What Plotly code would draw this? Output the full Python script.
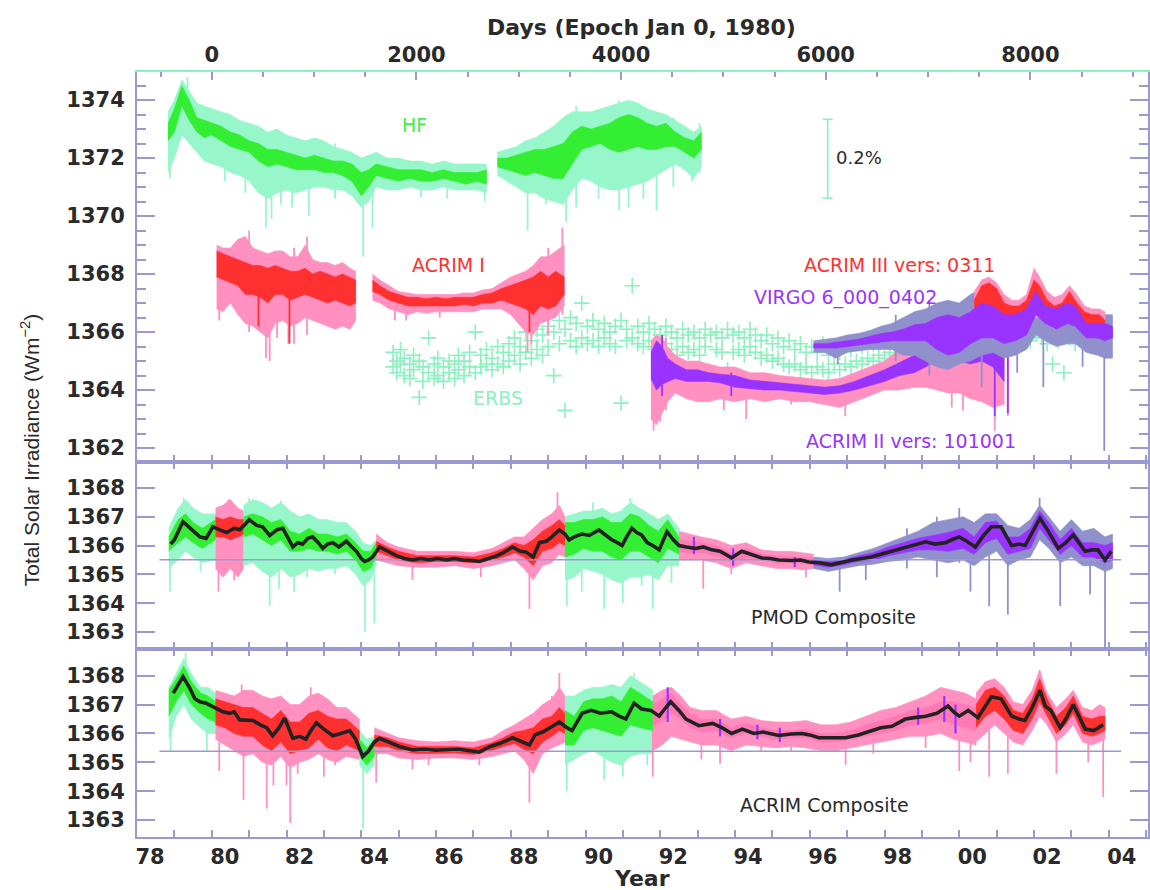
import plotly.graph_objects as go

# ============================================================
# DATA
# ============================================================

# ---- axes / ticks ------------------------------------------
year_range = [1978.0, 2005.05]
days_per_year = 365.25
top_yrange = [1361.52, 1374.97]
mid_yrange = [1362.41, 1368.90]
bot_yrange = [1362.41, 1368.93]

year_ticks = [1978, 1979, 1980, 1981, 1982, 1983, 1984, 1985, 1986, 1987,
              1988, 1989, 1990, 1991, 1992, 1993, 1994, 1995, 1996, 1997,
              1998, 1999, 2000, 2001, 2002, 2003, 2004, 2005]
year_labels = ["78", "", "80", "", "82", "", "84", "", "86", "", "88", "", "90", "",
               "92", "", "94", "", "96", "", "98", "", "00", "", "02", "", "04", ""]
days_ticks = [0, 2000, 4000, 6000, 8000]
days_labels = ["0", "2000", "4000", "6000", "8000"]
top_yticks = [1362, 1364, 1366, 1368, 1370, 1372, 1374]
comp_yticks = [1363, 1364, 1365, 1366, 1367, 1368]

# ---- TOP PANEL: HF (Nimbus-7) --------------------------------
hf1_x = [1978.83, 1979.0, 1979.2, 1979.4, 1979.6, 1979.8, 1980.0, 1980.25, 1980.5, 1980.75,
         1981.0, 1981.25, 1981.5, 1981.75, 1982.0, 1982.25, 1982.5, 1982.75, 1983.0, 1983.25,
         1983.5, 1983.75, 1984.0, 1984.2, 1984.4, 1984.7, 1985.0, 1985.3, 1985.6, 1985.9,
         1986.2, 1986.5, 1986.8, 1987.1, 1987.35]
hf1_dlo = [1372.6, 1372.9, 1373.8, 1373.3, 1372.9, 1372.7, 1372.8, 1372.6, 1372.4, 1372.3,
           1372.2, 1371.9, 1371.7, 1371.8, 1371.7, 1371.6, 1371.6, 1371.6, 1371.5, 1371.5,
           1371.4, 1371.2, 1370.7, 1371.0, 1371.4, 1371.3, 1371.2, 1371.3, 1371.2, 1371.2,
           1371.3, 1371.2, 1371.1, 1371.2, 1371.1]
hf1_dhi = [1373.2, 1373.7, 1374.5, 1374.0, 1373.4, 1373.3, 1373.2, 1373.1, 1372.9, 1372.8,
           1372.6, 1372.5, 1372.3, 1372.3, 1372.2, 1372.1, 1372.0, 1372.1, 1372.0, 1371.9,
           1371.9, 1371.8, 1371.5, 1371.6, 1371.8, 1371.7, 1371.6, 1371.6, 1371.6, 1371.5,
           1371.6, 1371.5, 1371.5, 1371.5, 1371.6]
hf1_llo = [1371.5, 1372.0, 1372.8, 1372.5, 1372.2, 1371.9, 1371.8, 1371.7, 1371.5, 1371.4,
           1371.2, 1370.8, 1370.6, 1370.8, 1370.9, 1370.8, 1370.9, 1371.0, 1371.0, 1370.9,
           1370.9, 1370.7, 1370.3, 1370.5, 1371.0, 1370.9, 1370.9, 1371.0, 1370.9, 1370.9,
           1371.0, 1370.9, 1370.9, 1370.9, 1370.8]
hf1_lhi = [1373.6, 1374.0, 1374.7, 1374.3, 1373.9, 1373.8, 1373.7, 1373.6, 1373.5, 1373.3,
           1373.2, 1373.1, 1372.9, 1373.0, 1372.8, 1372.7, 1372.6, 1372.7, 1372.6, 1372.4,
           1372.3, 1372.2, 1372.0, 1372.1, 1372.2, 1372.0, 1372.0, 1371.9, 1371.9, 1371.8,
           1371.9, 1371.8, 1371.8, 1371.8, 1371.8]

hf2_x = [1987.64, 1987.9, 1988.15, 1988.4, 1988.65, 1988.9, 1989.15, 1989.4, 1989.65, 1989.9,
         1990.15, 1990.4, 1990.65, 1990.9, 1991.15, 1991.4, 1991.65, 1991.9, 1992.15, 1992.4,
         1992.65, 1992.9, 1993.1]
hf2_dlo = [1371.7, 1371.6, 1371.5, 1371.4, 1371.5, 1371.4, 1371.3, 1371.3, 1371.8, 1372.3,
           1372.4, 1372.5, 1372.3, 1372.2, 1372.3, 1372.4, 1372.3, 1372.3, 1372.4, 1372.4,
           1372.2, 1372.0, 1372.3]
hf2_dhi = [1372.0, 1372.0, 1372.1, 1372.2, 1372.3, 1372.3, 1372.4, 1372.5, 1372.9, 1373.1,
           1373.0, 1373.1, 1373.2, 1373.4, 1373.5, 1373.4, 1373.2, 1373.1, 1373.2, 1372.9,
           1372.7, 1372.6, 1372.9]
hf2_llo = [1371.4, 1371.2, 1371.0, 1370.8, 1370.8, 1370.6, 1370.5, 1370.4, 1370.9, 1371.3,
           1371.2, 1371.0, 1370.9, 1370.9, 1371.0, 1371.1, 1371.2, 1371.4, 1371.6, 1371.8,
           1371.6, 1371.3, 1371.7]
hf2_lhi = [1372.2, 1372.3, 1372.4, 1372.6, 1372.7, 1372.9, 1373.1, 1373.4, 1373.6, 1373.6,
           1373.6, 1373.7, 1373.8, 1373.9, 1374.0, 1373.9, 1373.7, 1373.6, 1373.5, 1373.3,
           1373.1, 1372.9, 1373.1]

hf_spk_x = [1978.88, 1979.35, 1980.35, 1980.9, 1981.45, 1981.6, 1981.85, 1982.15, 1982.6, 1983.3,
            1984.05, 1984.3, 1985.6, 1986.3, 1987.3, 1988.45, 1988.95, 1989.48, 1989.75, 1990.35,
            1990.9, 1991.15, 1991.55, 1991.9, 1992.35, 1992.85, 1993.05]
hf_spk_lo = [1371.3, 1372.6, 1371.2, 1370.8, 1369.6, 1369.9, 1370.4, 1370.3, 1370.0, 1370.6,
             1368.6, 1369.6, 1370.65, 1370.6, 1370.5, 1369.5, 1370.4, 1369.8, 1370.3, 1370.6,
             1370.2, 1370.3, 1370.6, 1370.2, 1371.0, 1371.2, 1371.5]
hf_spk_hi = [1372.8, 1374.8, 1373.5, 1372.8, 1372.4, 1372.0, 1372.2, 1372.0, 1372.0, 1372.5,
             1371.5, 1371.8, 1371.8, 1371.8, 1371.7, 1372.2, 1372.8, 1373.0, 1373.8, 1373.6,
             1374.0, 1374.0, 1373.6, 1373.5, 1373.4, 1372.9, 1373.2]

# ---- TOP PANEL: ACRIM I -------------------------------------
a1a_x = [1980.13, 1980.3, 1980.5, 1980.7, 1980.9, 1981.1, 1981.3, 1981.5, 1981.7, 1981.9,
         1982.1, 1982.3, 1982.5, 1982.7, 1982.9, 1983.1, 1983.3, 1983.5, 1983.7, 1983.85]
a1a_dlo = [1367.9, 1367.8, 1367.7, 1367.6, 1367.3, 1367.3, 1367.2, 1367.0, 1367.3, 1367.3,
           1367.1, 1367.2, 1367.3, 1367.2, 1367.1, 1367.0, 1367.1, 1367.0, 1366.9, 1367.0]
a1a_dhi = [1368.8, 1368.7, 1368.6, 1368.5, 1368.4, 1368.3, 1368.3, 1368.2, 1368.3, 1368.2,
           1368.1, 1368.1, 1368.2, 1368.0, 1368.1, 1368.0, 1367.9, 1368.0, 1367.9, 1367.8]
a1a_llo = [1366.8, 1366.7, 1367.0, 1366.6, 1366.3, 1366.2, 1366.0, 1365.8, 1366.3, 1366.4,
           1366.2, 1366.3, 1366.5, 1366.4, 1366.3, 1366.2, 1366.1, 1366.2, 1366.1, 1366.4]
a1a_lhi = [1369.0, 1368.9, 1368.9, 1369.2, 1369.3, 1368.9, 1368.8, 1368.7, 1368.8, 1368.8,
           1368.6, 1368.6, 1369.0, 1368.5, 1368.4, 1368.4, 1368.3, 1368.4, 1368.2, 1368.1]

a1b_x = [1984.3, 1984.5, 1984.75, 1985.0, 1985.25, 1985.5, 1985.75, 1986.0, 1986.25, 1986.5,
         1986.75, 1987.0, 1987.25, 1987.5, 1987.75, 1988.0, 1988.2, 1988.4, 1988.6, 1988.8,
         1989.0, 1989.2, 1989.43]
a1b_dlo = [1367.4, 1367.3, 1367.1, 1367.0, 1366.9, 1366.9, 1366.9, 1366.9, 1366.9, 1366.9,
           1366.95, 1366.9, 1367.0, 1367.0, 1367.1, 1367.0, 1366.9, 1366.8, 1366.6, 1366.9,
           1366.8, 1366.9, 1367.3]
a1b_dhi = [1367.8, 1367.6, 1367.4, 1367.3, 1367.2, 1367.2, 1367.15, 1367.2, 1367.15, 1367.2,
           1367.2, 1367.2, 1367.3, 1367.35, 1367.5, 1367.6, 1367.7, 1367.8, 1367.9, 1368.1,
           1367.9, 1368.1, 1367.9]
a1b_llo = [1367.1, 1367.0, 1366.8, 1366.7, 1366.6, 1366.7, 1366.65, 1366.7, 1366.7, 1366.7,
           1366.7, 1366.7, 1366.8, 1366.8, 1366.8, 1366.6, 1366.3, 1366.0, 1365.9, 1366.3,
           1366.4, 1366.5, 1366.9]
a1b_lhi = [1368.0, 1367.8, 1367.6, 1367.4, 1367.35, 1367.3, 1367.3, 1367.3, 1367.3, 1367.3,
           1367.35, 1367.35, 1367.45, 1367.5, 1367.7, 1367.9, 1368.0, 1368.1, 1368.3, 1368.6,
           1368.6, 1368.8, 1369.0]

a1_spk_x = [1980.2, 1981.0, 1981.45, 1981.55, 1981.75, 1982.05, 1982.2, 1982.55, 1983.4, 1984.9,
            1985.2, 1986.1, 1988.45, 1988.55, 1989.0, 1989.38]
a1_spk_lo = [1366.4, 1366.0, 1365.1, 1365.0, 1365.8, 1365.6, 1365.6, 1365.9, 1366.3, 1366.4,
             1366.4, 1366.5, 1365.3, 1365.6, 1365.9, 1366.6]
a1_spk_hi = [1368.9, 1369.5, 1368.5, 1368.3, 1368.6, 1368.5, 1368.9, 1369.3, 1368.3, 1367.4,
             1367.3, 1367.3, 1367.8, 1368.0, 1368.9, 1369.6]
a1_rspk_x = [1981.25, 1982.08, 1988.5]
a1_rspk_lo = [1366.2, 1365.6, 1366.0]
a1_rspk_hi = [1367.8, 1367.5, 1367.6]

# ---- TOP PANEL: ACRIM II ------------------------------------
a2_x = [1991.75, 1991.9, 1992.05, 1992.2, 1992.4, 1992.7, 1993.0, 1993.3, 1993.6, 1994.0,
        1994.4, 1994.8, 1995.2, 1995.6, 1996.0, 1996.4, 1996.8, 1997.2, 1997.6, 1998.0,
        1998.4, 1998.8, 1999.1, 1999.4, 1999.7, 2000.0, 2000.3, 2000.6, 2000.9, 2001.2]
a2_dlo = [1364.4, 1364.0, 1364.2, 1364.3, 1364.4, 1364.3, 1364.3, 1364.3, 1364.25, 1364.1,
          1364.05, 1364.0, 1364.0, 1363.95, 1363.9, 1363.85, 1363.9, 1364.0, 1364.15, 1364.3,
          1364.5, 1364.6, 1364.8, 1365.0, 1365.1, 1365.0, 1364.9, 1365.0, 1364.8, 1364.3]
a2_dhi = [1365.3, 1365.7, 1365.5, 1365.1, 1364.9, 1364.7, 1364.7, 1364.6, 1364.55, 1364.5,
          1364.35, 1364.3, 1364.25, 1364.2, 1364.15, 1364.1, 1364.15, 1364.3, 1364.5, 1364.7,
          1364.95, 1365.2, 1365.5, 1365.9, 1366.1, 1366.2, 1366.3, 1366.6, 1366.4, 1365.8]
a2_llo = [1363.0, 1362.8, 1363.2, 1363.6, 1363.9, 1363.7, 1363.6, 1363.6, 1363.7, 1363.6,
          1363.7, 1363.6, 1363.7, 1363.6, 1363.6, 1363.5, 1363.4, 1363.6, 1363.8, 1364.0,
          1364.0, 1364.1, 1364.1, 1364.0, 1363.9, 1363.9, 1363.7, 1363.6, 1363.4, 1363.5]
a2_lhi = [1365.7, 1365.9, 1365.8, 1365.5, 1365.2, 1365.0, 1365.0, 1364.9, 1364.8, 1364.8,
          1364.6, 1364.6, 1364.5, 1364.45, 1364.4, 1364.35, 1364.4, 1364.6, 1364.8, 1365.0,
          1365.4, 1365.7, 1366.0, 1366.3, 1366.5, 1366.7, 1366.8, 1366.9, 1366.7, 1366.2]
a2_spk_x = [1991.82, 1992.0, 1992.15, 1993.7, 1994.3, 1995.5, 1996.95, 1999.8, 2000.1, 2000.95, 2001.3]
a2_spk_lo = [1362.6, 1362.9, 1363.3, 1363.3, 1363.0, 1363.5, 1363.1, 1363.4, 1363.3, 1362.6, 1363.1]
a2_spk_hi = [1365.5, 1365.6, 1365.8, 1364.7, 1364.5, 1364.4, 1364.3, 1366.0, 1366.3, 1366.0, 1365.5]
a2_pspk_x = [1992.05, 1993.9, 2000.95, 2001.3]
a2_pspk_lo = [1363.8, 1363.8, 1363.1, 1363.2]
a2_pspk_hi = [1365.9, 1364.6, 1365.8, 1365.2]

# ---- TOP PANEL: VIRGO ---------------------------------------
vg_x = [1996.1, 1996.4, 1996.7, 1997.0, 1997.3, 1997.6, 1997.9, 1998.2, 1998.5, 1998.8,
        1999.1, 1999.4, 1999.7, 2000.0, 2000.3, 2000.6, 2000.9, 2001.2, 2001.5, 2001.8,
        2002.05, 2002.3, 2002.6, 2002.9, 2003.1, 2003.4, 2003.7, 2003.9, 2004.1]
vg_dlo = [1365.45, 1365.45, 1365.45, 1365.5, 1365.55, 1365.6, 1365.65, 1365.7, 1365.7, 1365.7,
          1365.7, 1365.4, 1365.2, 1365.3, 1365.6, 1365.8, 1365.8, 1365.6, 1365.7, 1365.9,
          1366.6, 1366.3, 1366.1, 1366.3, 1366.2, 1365.8, 1365.8, 1365.7, 1365.8]
vg_dhi = [1365.6, 1365.6, 1365.65, 1365.7, 1365.75, 1365.85, 1365.95, 1366.0, 1366.1, 1366.25,
          1366.3, 1366.5, 1366.6, 1366.5, 1366.7, 1367.0, 1366.9, 1366.6, 1366.6, 1366.8,
          1367.4, 1366.9, 1366.8, 1367.0, 1366.9, 1366.3, 1366.3, 1366.3, 1366.2]
vg_llo = [1365.3, 1365.3, 1365.1, 1365.3, 1365.35, 1365.4, 1365.4, 1365.4, 1365.2, 1365.2,
          1365.0, 1364.8, 1364.7, 1364.9, 1365.0, 1365.2, 1365.3, 1365.1, 1365.2, 1365.4,
          1365.9, 1365.7, 1365.5, 1365.6, 1365.6, 1365.3, 1365.2, 1365.1, 1365.1]
vg_lhi = [1365.7, 1365.75, 1365.8, 1365.9, 1365.95, 1366.05, 1366.2, 1366.3, 1366.5, 1366.7,
          1366.8, 1367.0, 1367.1, 1367.0, 1367.3, 1367.5, 1367.3, 1367.1, 1367.0, 1367.2,
          1367.7, 1367.3, 1367.1, 1367.3, 1367.2, 1366.8, 1366.7, 1366.6, 1366.6]
vg_spk_x = [1996.75, 1998.3, 1999.2, 2000.6, 2001.55, 2002.25, 2003.3, 2003.88]
vg_spk_lo = [1364.9, 1365.0, 1364.5, 1364.1, 1364.6, 1364.1, 1364.8, 1361.9]
vg_spk_hi = [1365.7, 1366.6, 1367.1, 1367.4, 1367.0, 1366.9, 1366.9, 1366.4]

# ---- TOP PANEL: ACRIM III -----------------------------------
a3_x = [2000.4, 2000.6, 2000.8, 2001.0, 2001.2, 2001.4, 2001.6, 2001.8, 2002.0, 2002.15,
        2002.35, 2002.55, 2002.75, 2002.95, 2003.15, 2003.35, 2003.55, 2003.75, 2003.9]
a3_dlo = [1366.6, 1366.9, 1366.9, 1366.8, 1366.5, 1366.3, 1366.3, 1366.5, 1366.9, 1366.9,
          1366.6, 1366.4, 1366.5, 1366.7, 1366.5, 1366.3, 1366.2, 1366.3, 1366.1]
a3_dhi = [1367.1, 1367.6, 1367.7, 1367.5, 1367.0, 1366.9, 1366.9, 1367.1, 1367.8, 1367.6,
          1367.1, 1366.9, 1367.0, 1367.4, 1367.0, 1366.7, 1366.6, 1366.6, 1366.4]
a3_llo = [1366.3, 1366.5, 1366.6, 1366.4, 1366.1, 1366.0, 1366.0, 1366.2, 1366.5, 1366.5,
          1366.3, 1366.1, 1366.2, 1366.4, 1366.2, 1366.0, 1365.9, 1366.0, 1365.9]
a3_lhi = [1367.4, 1367.8, 1367.9, 1367.7, 1367.3, 1367.1, 1367.1, 1367.3, 1368.2, 1367.9,
          1367.4, 1367.2, 1367.3, 1367.6, 1367.3, 1366.9, 1366.8, 1366.8, 1366.7]

# ---- TOP PANEL: ERBS (crosses) ------------------------------
erbs_x = [1984.85, 1984.95, 1985.05, 1985.15, 1985.3, 1985.4, 1985.55, 1985.65, 1985.8, 1985.95,
          1986.05, 1986.2, 1986.35, 1986.5, 1986.6, 1986.75, 1986.9, 1987.05, 1987.2, 1987.35,
          1987.5, 1987.65, 1987.8, 1987.95, 1988.1, 1988.25, 1988.4, 1988.55, 1988.7, 1988.85,
          1989.0, 1989.15, 1989.3, 1989.45, 1989.6, 1989.75, 1989.9, 1990.05, 1990.2, 1990.35,
          1990.5, 1990.65, 1990.8, 1990.95, 1991.1, 1991.25, 1991.4, 1991.55, 1991.7, 1991.85,
          1992.0, 1992.15, 1992.3, 1992.45, 1992.6, 1992.75, 1992.9, 1993.05, 1993.2, 1993.35,
          1993.5, 1993.65, 1993.8, 1993.95, 1994.1, 1994.25, 1994.4, 1994.55, 1994.7, 1994.85,
          1995.0, 1995.15, 1995.3, 1995.45, 1995.6, 1995.75, 1995.9, 1996.05, 1996.2, 1996.35,
          1996.5, 1996.65, 1996.8, 1996.95, 1997.1, 1997.25, 1997.4, 1997.55, 1997.7, 1997.85,
          1998.0, 1998.15, 1998.3, 1998.45, 1998.6, 1998.75, 1998.9, 1999.05, 1999.2, 1999.35,
          1999.5, 1999.65, 1999.8, 1999.95, 2000.1, 2000.25, 2000.4, 2000.55, 2000.7, 2000.85,
          2001.0, 2001.15, 2001.3, 2001.45, 2001.6, 2001.75, 2001.9, 2002.05, 2002.2, 2002.35,
          2002.5, 2002.65, 2002.8, 2002.95, 2003.1, 2003.25, 2003.4, 2003.55, 2003.7, 2003.85]
erbs_a = [1365.3, 1365.0, 1365.4, 1365.1, 1364.9, 1365.2, 1365.0, 1364.8, 1365.8, 1364.9,
          1365.1, 1364.8, 1365.0, 1364.9, 1365.2, 1365.0, 1365.3, 1366.0, 1365.2, 1365.4,
          1365.1, 1365.5, 1365.3, 1365.6, 1365.8, 1365.5, 1366.0, 1365.7, 1366.1, 1365.9,
          1366.2, 1366.0, 1366.4, 1366.1, 1366.5, 1366.3, 1367.0, 1366.2, 1366.4, 1366.1,
          1366.3, 1366.0, 1366.2, 1366.4, 1366.1, 1367.6, 1366.2, 1366.0, 1366.3, 1366.1,
          1365.9, 1366.2, 1366.0, 1365.8, 1366.1, 1365.9, 1366.0, 1365.8, 1366.1, 1365.9,
          1366.0, 1365.8, 1366.1, 1365.9, 1366.0, 1365.8, 1366.1, 1365.9, 1365.7, 1365.9,
          1365.6, 1365.8, 1365.5, 1365.7, 1365.4, 1365.6, 1365.3, 1365.5, 1365.3, 1365.6,
          1365.2, 1365.5, 1365.3, 1365.6, 1365.4, 1365.7, 1365.5, 1365.8, 1365.6, 1365.9,
          1365.7, 1366.0, 1365.8, 1366.1, 1365.9, 1366.2, 1366.0, 1366.3, 1366.1, 1366.4,
          1366.2, 1366.3, 1366.1, 1366.4, 1366.2, 1366.5, 1366.3, 1366.6, 1366.4, 1366.2,
          1366.5, 1366.3, 1366.1, 1366.4, 1366.2, 1366.5, 1366.3, 1366.6, 1366.4, 1366.2,
          1366.5, 1366.3, 1366.1, 1366.4, 1366.2, 1366.5, 1366.3, 1366.1, 1366.4, 1366.2]
erbs_b = [1364.8, 1364.6, 1364.9, 1364.5, 1364.4, 1364.7, 1363.75, 1364.3, 1364.6, 1364.4,
          1364.5, 1364.3, 1364.6, 1364.4, 1364.7, 1364.5, 1364.8, 1364.6, 1364.8, 1364.9,
          1364.7, 1364.9, 1364.8, 1365.0, 1365.2, 1364.9, 1365.3, 1365.1, 1365.4, 1365.2,
          1365.5, 1364.5, 1365.6, 1363.3, 1365.7, 1365.5, 1365.8, 1365.6, 1365.7, 1365.5,
          1365.8, 1365.6, 1365.5, 1363.55, 1365.7, 1365.8, 1365.6, 1365.5, 1365.7, 1365.4,
          1365.3, 1365.6, 1365.4, 1365.2, 1365.5, 1365.3, 1365.4, 1365.2, 1365.5, 1364.6,
          1365.4, 1365.3, 1364.7, 1365.3, 1365.4, 1365.2, 1365.5, 1365.3, 1365.1, 1365.2,
          1365.0, 1365.1, 1364.9, 1364.8, 1364.9, 1364.7, 1364.8, 1364.6, 1364.8, 1364.7,
          1364.6, 1364.9, 1364.7, 1364.9, 1364.8, 1365.0, 1364.9, 1365.1, 1365.0, 1365.2,
          1365.1, 1365.3, 1365.2, 1365.4, 1365.3, 1365.5, 1365.4, 1365.6, 1365.5, 1365.7,
          1365.6, 1365.8, 1365.5, 1365.7, 1365.6, 1365.8, 1365.7, 1365.9, 1365.8, 1365.6,
          1365.9, 1365.7, 1365.5, 1365.8, 1365.6, 1365.9, 1365.7, 1366.0, 1365.8, 1365.6,
          1364.9, 1365.7, 1364.6, 1365.8, 1365.6, 1365.9, 1365.7, 1365.5, 1365.8, 1365.6]

# 0.2 % scale bar
scale_x = 1996.48
scale_lo = 1370.62
scale_hi = 1373.34

# ---- MIDDLE PANEL: PMOD composite ---------------------------
pmod_x = [1978.9, 1979.0, 1979.23, 1979.45, 1979.68, 1979.85, 1980.03, 1980.2, 1980.4, 1980.6,
          1980.75, 1980.9, 1981.0, 1981.2, 1981.36, 1981.55, 1981.75, 1981.9, 1982.05, 1982.17,
          1982.3, 1982.43, 1982.57, 1982.7, 1982.85, 1982.97, 1983.1, 1983.24, 1983.4, 1983.6,
          1983.75, 1983.87, 1984.0, 1984.09, 1984.2, 1984.3, 1984.49, 1984.7, 1984.94, 1985.15,
          1985.37, 1985.6, 1985.82, 1986.05, 1986.28, 1986.5, 1986.7, 1986.95, 1987.16, 1987.4,
          1987.6, 1987.8, 1988.05, 1988.25, 1988.4, 1988.6, 1988.77, 1988.95, 1989.1, 1989.3,
          1989.45, 1989.56, 1989.7, 1989.9, 1990.1, 1990.36, 1990.55, 1990.7, 1990.85, 1990.98,
          1991.1, 1991.24, 1991.37, 1991.5, 1991.65, 1991.8, 1991.97, 1992.18, 1992.35, 1992.5,
          1992.7, 1992.95, 1993.15, 1993.38, 1993.6, 1993.91, 1994.18, 1994.45, 1994.72, 1994.95,
          1995.17, 1995.52, 1995.75, 1995.97, 1996.25, 1996.58, 1996.85, 1997.12, 1997.4, 1997.65,
          1997.9, 1998.19, 1998.45, 1998.72, 1999.1, 1999.35, 1999.63, 1999.8, 2000.0, 2000.2,
          2000.43, 2000.65, 2000.86, 2001.12, 2001.4, 2001.6, 2001.76, 2001.95, 2002.16, 2002.38,
          2002.65, 2002.85, 2003.05, 2003.2, 2003.37, 2003.55, 2003.71, 2003.9, 2004.07]
pmod_y = [1366.05, 1366.2, 1366.83, 1366.55, 1366.3, 1366.25, 1366.65, 1366.55, 1366.45, 1366.6,
          1366.55, 1366.75, 1366.9, 1366.7, 1366.65, 1366.35, 1366.55, 1366.6, 1366.25, 1365.95,
          1366.1, 1366.05, 1366.25, 1366.3, 1366.1, 1365.9, 1366.05, 1366.1, 1365.95, 1366.15,
          1365.95, 1365.8, 1365.55, 1365.45, 1365.5, 1365.6, 1365.95, 1365.8, 1365.65, 1365.55,
          1365.5, 1365.55, 1365.5, 1365.55, 1365.5, 1365.55, 1365.5, 1365.48, 1365.45, 1365.55,
          1365.63, 1365.75, 1365.95, 1365.8, 1365.78, 1365.6, 1366.1, 1366.15, 1366.3, 1366.54,
          1366.4, 1366.2, 1366.3, 1366.4, 1366.35, 1366.54, 1366.35, 1366.2, 1366.1, 1366.0,
          1366.3, 1366.6, 1366.45, 1366.37, 1366.1, 1366.0, 1365.85, 1366.48, 1366.2, 1366.0,
          1365.95, 1365.9, 1365.95, 1365.85, 1365.8, 1365.57, 1365.8, 1365.7, 1365.57, 1365.55,
          1365.5, 1365.48, 1365.5, 1365.43, 1365.4, 1365.33, 1365.42, 1365.5, 1365.55, 1365.6,
          1365.7, 1365.8, 1365.9, 1366.0, 1366.13, 1366.05, 1366.1, 1366.2, 1366.3, 1366.15,
          1365.95, 1366.35, 1366.65, 1366.65, 1366.0, 1366.05, 1366.0, 1366.45, 1366.95, 1366.5,
          1365.9, 1366.1, 1366.37, 1366.1, 1365.8, 1365.85, 1365.85, 1365.5, 1365.8]
pmod_ref = 1365.51

pmod_bx = [1978.85, 1979.1, 1979.3, 1979.5, 1979.75, 1980.1,
           1980.1, 1980.3, 1980.5, 1980.7, 1980.85,
           1980.85, 1981.1, 1981.35, 1981.6, 1981.85, 1982.1, 1982.35, 1982.6, 1982.85, 1983.1,
           1983.35, 1983.6, 1983.85, 1984.05, 1984.25, 1984.4,
           1984.4, 1984.7, 1985.0, 1985.5, 1986.0, 1986.5, 1987.0, 1987.5, 1987.8, 1988.1,
           1988.35, 1988.6, 1988.85, 1989.1, 1989.3, 1989.45,
           1989.45, 1989.7, 1989.95, 1990.2, 1990.45, 1990.7, 1990.95, 1991.2, 1991.45, 1991.7,
           1991.95, 1992.2, 1992.5,
           1992.5, 1992.8, 1993.1, 1993.5, 1993.9, 1994.3, 1994.7, 1995.1, 1995.5, 1995.8, 1996.1,
           1996.1, 1996.5, 1996.9, 1997.3, 1997.7, 1998.1, 1998.5, 1998.9, 1999.3, 1999.7,
           2000.1, 2000.4, 2000.7, 2001.0, 2001.3, 2001.6, 2001.9, 2002.15, 2002.4, 2002.7,
           2003.0, 2003.3, 2003.6, 2003.9, 2004.1]
pmod_src = (["HF"] * 6 + ["A1"] * 5 + ["HF"] * 16 + ["A1"] * 16 + ["HF"] * 13
            + ["A2"] * 11 + ["VG"] * 25)
pmod_llo = [1365.2, 1365.5, 1365.8, 1365.6, 1365.4, 1365.5,
            1365.2, 1364.9, 1365.2, 1364.9, 1365.2,
            1365.3, 1365.4, 1365.1, 1364.9, 1365.2, 1364.9, 1365.0, 1365.2, 1365.1, 1365.2,
            1365.2, 1365.3, 1365.0, 1364.6, 1364.8, 1365.3,
            1365.5, 1365.4, 1365.3, 1365.25, 1365.25, 1365.3, 1365.2, 1365.3, 1365.4, 1365.5,
            1365.2, 1364.8, 1365.3, 1365.4, 1365.7, 1365.6,
            1364.8, 1364.9, 1365.2, 1365.1, 1365.0, 1364.8, 1364.7, 1364.9, 1364.9, 1365.0,
            1364.8, 1365.3, 1365.3,
            1365.5, 1365.5, 1365.5, 1365.4, 1365.2, 1365.4, 1365.3, 1365.2, 1365.2, 1365.15, 1365.2,
            1365.2, 1365.1, 1365.2, 1365.3, 1365.35, 1365.45, 1365.5, 1365.6, 1365.5, 1365.4,
            1365.5, 1365.3, 1365.6, 1365.8, 1365.3, 1365.5, 1365.6, 1366.2, 1365.9, 1365.4,
            1365.6, 1365.3, 1365.3, 1365.1, 1365.2]
pmod_lhi = [1366.6, 1367.3, 1367.6, 1367.3, 1367.1, 1367.1,
            1367.3, 1367.4, 1367.6, 1367.3, 1367.2,
            1367.4, 1367.6, 1367.5, 1367.3, 1367.5, 1367.2, 1367.0, 1367.1, 1366.9, 1366.9,
            1366.8, 1366.8, 1366.5, 1366.1, 1366.0, 1366.2,
            1366.4, 1366.1, 1365.95, 1365.8, 1365.8, 1365.8, 1365.75, 1365.9, 1366.1, 1366.3,
            1366.3, 1366.6, 1366.9, 1367.1, 1367.4, 1367.0,
            1367.0, 1367.1, 1367.2, 1367.2, 1367.3, 1367.1, 1367.2, 1367.5, 1367.3, 1367.1,
            1366.9, 1367.1, 1366.6,
            1366.5, 1366.4, 1366.3, 1366.2, 1366.0, 1366.1, 1365.85, 1365.8, 1365.8, 1365.75, 1365.7,
            1365.6, 1365.55, 1365.6, 1365.75, 1365.9, 1366.1, 1366.3, 1366.5, 1366.8, 1366.9,
            1367.0, 1366.8, 1367.1, 1367.1, 1366.7, 1366.6, 1366.9, 1367.4, 1367.0, 1366.5,
            1366.9, 1366.5, 1366.6, 1366.3, 1366.4]
pmod_dlo = [1365.8, 1366.1, 1366.3, 1366.1, 1365.9, 1366.2,
            1366.3, 1366.3, 1366.2, 1366.3, 1366.4,
            1366.3, 1366.4, 1366.2, 1366.0, 1366.2, 1365.8, 1365.8, 1365.9, 1365.8, 1365.8,
            1365.7, 1365.8, 1365.5, 1365.1, 1365.2, 1365.6,
            1365.8, 1365.65, 1365.5, 1365.4, 1365.45, 1365.45, 1365.4, 1365.5, 1365.6, 1365.75,
            1365.6, 1365.3, 1365.8, 1365.9, 1366.1, 1366.0,
            1365.6, 1365.7, 1365.9, 1365.8, 1365.8, 1365.6, 1365.5, 1365.8, 1365.8, 1365.6,
            1365.4, 1365.9, 1365.7,
            1365.8, 1365.75, 1365.75, 1365.65, 1365.45, 1365.6, 1365.5, 1365.4, 1365.4, 1365.38, 1365.35,
            1365.33, 1365.25, 1365.33, 1365.45, 1365.5, 1365.65, 1365.75, 1365.85, 1365.85, 1365.8,
            1365.9, 1365.7, 1366.1, 1366.25, 1365.7, 1365.8, 1365.9, 1366.6, 1366.2, 1365.7,
            1366.0, 1365.6, 1365.6, 1365.4, 1365.5]
pmod_dhi = [1366.3, 1366.9, 1367.1, 1366.8, 1366.6, 1366.9,
            1367.0, 1366.9, 1367.0, 1366.9, 1366.9,
            1367.0, 1367.1, 1367.0, 1366.8, 1366.9, 1366.5, 1366.4, 1366.6, 1366.4, 1366.4,
            1366.3, 1366.4, 1366.1, 1365.8, 1365.8, 1366.1,
            1366.15, 1365.95, 1365.8, 1365.65, 1365.65, 1365.65, 1365.6, 1365.75, 1365.9, 1366.1,
            1366.0, 1366.2, 1366.5, 1366.7, 1366.9, 1366.7,
            1366.8, 1366.8, 1366.9, 1366.9, 1367.0, 1366.8, 1366.8, 1367.1, 1367.0, 1366.7,
            1366.5, 1366.9, 1366.3,
            1366.2, 1366.15, 1366.1, 1366.0, 1365.75, 1365.9, 1365.7, 1365.65, 1365.6, 1365.6, 1365.55,
            1365.5, 1365.45, 1365.5, 1365.65, 1365.75, 1365.95, 1366.1, 1366.25, 1366.35, 1366.45,
            1366.6, 1366.3, 1366.8, 1366.85, 1366.3, 1366.3, 1366.6, 1367.2, 1366.8, 1366.2,
            1366.6, 1366.1, 1366.1, 1366.0, 1366.1]

pmod_spk_x = [1978.88, 1979.25, 1979.7, 1980.18, 1980.45, 1980.6, 1981.0, 1981.55, 1981.8, 1981.85,
              1982.2, 1982.55, 1982.9, 1983.3, 1984.1, 1984.35, 1985.37, 1987.2, 1988.5, 1989.25,
              1989.5, 1989.9, 1990.2, 1990.5, 1991.0, 1991.2, 1991.5, 1991.8, 1992.3, 1993.15,
              1993.9, 1995.9, 1992.9, 1993.95, 1995.6, 1996.8, 1997.5, 1998.6, 1999.4, 2000.0,
              2000.3, 2000.8, 2001.3, 2002.15, 2002.7, 2003.5, 2003.9]
pmod_spk_lo = [1364.4, 1366.0, 1365.1, 1364.4, 1365.6, 1364.8, 1365.6, 1363.9, 1364.5, 1366.0,
               1364.4, 1364.9, 1365.2, 1365.0, 1363.0, 1363.3, 1364.8, 1364.9, 1363.8, 1365.9,
               1363.9, 1364.4, 1365.5, 1363.8, 1364.0, 1365.8, 1364.6, 1363.8, 1364.7, 1364.5,
               1365.0, 1364.9, 1365.7, 1365.3, 1365.25, 1364.4, 1364.8, 1365.2, 1364.9, 1365.4,
               1364.4, 1363.9, 1363.6, 1366.5, 1363.9, 1364.3, 1362.41]
pmod_spk_hi = [1366.3, 1367.65, 1366.8, 1366.8, 1367.6, 1366.8, 1367.65, 1366.5, 1366.8, 1367.55,
               1366.4, 1366.6, 1366.5, 1366.4, 1365.9, 1365.9, 1365.7, 1365.6, 1366.2, 1367.85,
               1366.5, 1366.6, 1367.5, 1366.3, 1366.3, 1367.65, 1366.6, 1366.2, 1366.6, 1366.0,
               1365.8, 1365.6, 1366.3, 1365.9, 1365.6, 1365.5, 1365.6, 1366.6, 1367.0, 1367.3,
               1366.3, 1366.6, 1366.2, 1367.65, 1366.0, 1366.0, 1366.2]
pmod_spk_src = ["HF", "HF", "HF", "A1", "A1", "A1", "HF", "HF", "HF", "HF",
                "HF", "HF", "HF", "HF", "HF", "HF", "A1", "A1", "A1", "A1",
                "HF", "HF", "HF", "HF", "HF", "HF", "HF", "HF", "HF", "A2",
                "A2", "A2", "P", "P", "P", "VG", "VG", "VG", "VG", "VG",
                "VG", "VG", "VG", "VG", "VG", "VG", "VG"]

# ---- BOTTOM PANEL: ACRIM composite --------------------------
acrim_x = [1978.97, 1979.1, 1979.23, 1979.4, 1979.55, 1979.68, 1979.85, 1980.0, 1980.13, 1980.3,
           1980.48, 1980.6, 1980.75, 1980.9, 1981.1, 1981.3, 1981.47, 1981.63, 1981.8, 1981.95,
           1982.05, 1982.17, 1982.35, 1982.52, 1982.65, 1982.8, 1983.0, 1983.24, 1983.45, 1983.69,
           1983.85, 1984.04, 1984.2, 1984.35, 1984.49, 1984.75, 1985.02, 1985.37, 1985.7, 1986.0,
           1986.28, 1986.6, 1986.9, 1987.16, 1987.45, 1987.7, 1988.05, 1988.3, 1988.5, 1988.65,
           1988.85, 1989.05, 1989.3, 1989.5, 1989.64, 1989.91, 1990.15, 1990.4, 1990.7, 1990.9,
           1991.08, 1991.3, 1991.5, 1991.75, 1991.97, 1992.15, 1992.28, 1992.5, 1992.69, 1993.03,
           1993.4, 1993.65, 1993.91, 1994.2, 1994.5, 1994.75, 1995.17, 1995.5, 1995.8, 1996.0,
           1996.24, 1996.6, 1996.96, 1997.3, 1997.65, 1997.9, 1998.2, 1998.56, 1998.8, 1999.1,
           1999.4, 1999.7, 1999.85, 2000.0, 2000.24, 2000.5, 2000.7, 2000.86, 2001.12, 2001.4,
           2001.6, 2001.76, 2001.95, 2002.16, 2002.3, 2002.45, 2002.7, 2002.85, 2003.05, 2003.2,
           2003.37, 2003.6, 2003.85]
acrim_y = [1367.4, 1367.7, 1367.97, 1367.6, 1367.2, 1367.1, 1367.05, 1366.95, 1366.85, 1366.75,
           1366.7, 1366.75, 1366.47, 1366.45, 1366.45, 1366.3, 1366.2, 1365.92, 1366.2, 1366.53,
           1366.2, 1365.83, 1365.9, 1365.8, 1366.1, 1366.37, 1366.15, 1365.92, 1366.0, 1366.1,
           1365.8, 1365.2, 1365.4, 1365.7, 1365.83, 1365.7, 1365.55, 1365.43, 1365.45, 1365.42,
           1365.43, 1365.45, 1365.4, 1365.35, 1365.55, 1365.65, 1365.85, 1365.7, 1365.6, 1365.95,
           1366.05, 1366.2, 1366.4, 1366.2, 1366.1, 1366.7, 1366.8, 1366.7, 1366.75, 1366.6,
           1366.5, 1367.05, 1366.85, 1366.8, 1366.6, 1366.9, 1367.1, 1366.8, 1366.5, 1366.27,
           1366.35, 1366.2, 1366.0, 1366.15, 1366.0, 1366.05, 1365.93, 1365.98, 1366.0, 1365.95,
           1365.85, 1365.85, 1365.85, 1365.95, 1366.1, 1366.2, 1366.25, 1366.5, 1366.55, 1366.6,
           1366.7, 1366.95, 1366.75, 1366.6, 1366.8, 1366.55, 1366.95, 1367.27, 1367.2, 1366.6,
           1366.5, 1366.45, 1366.9, 1367.5, 1366.95, 1366.8, 1366.2, 1366.5, 1367.0, 1366.6,
           1366.15, 1366.1, 1366.3]
acrim_ref = 1365.38

acrim_bx = [1978.85, 1979.05, 1979.25, 1979.45, 1979.7, 1979.9, 1980.1,
            1980.1, 1980.35, 1980.6, 1980.85, 1981.1, 1981.35, 1981.6, 1981.85, 1982.1, 1982.35,
            1982.6, 1982.85, 1983.1, 1983.35, 1983.6, 1983.95,
            1983.95, 1984.15, 1984.35,
            1984.35, 1984.7, 1985.0, 1985.5, 1986.0, 1986.5, 1987.0, 1987.5, 1987.8, 1988.1,
            1988.35, 1988.6, 1988.85, 1989.1, 1989.3, 1989.45,
            1989.45, 1989.7, 1989.95, 1990.2, 1990.45, 1990.7, 1990.95, 1991.2, 1991.45, 1991.8,
            1991.8, 1992.05, 1992.3, 1992.55, 1992.8, 1993.1, 1993.5, 1993.9, 1994.3, 1994.7,
            1995.1, 1995.5, 1995.9, 1996.3, 1996.7, 1997.1, 1997.5, 1997.9, 1998.3, 1998.7,
            1999.1, 1999.5, 1999.85, 2000.15, 2000.45,
            2000.45, 2000.7, 2000.95, 2001.2, 2001.45, 2001.7, 2001.95, 2002.15, 2002.35, 2002.6,
            2002.85, 2003.05, 2003.3, 2003.55, 2003.75, 2003.9]
acrim_src = (["HF"] * 7 + ["A1"] * 16 + ["HF"] * 3 + ["A1"] * 16 + ["HF"] * 10
             + ["A2"] * 25 + ["A3"] * 16)
acrim_llo = [1365.8, 1366.6, 1367.0, 1366.5, 1366.2, 1366.0, 1366.0,
             1365.8, 1365.6, 1365.4, 1365.2, 1365.3, 1365.0, 1364.9, 1365.2, 1364.8, 1365.0,
             1365.1, 1365.3, 1365.1, 1365.0, 1365.2, 1365.1,
             1364.9, 1364.6, 1364.9,
             1365.3, 1365.3, 1365.15, 1365.1, 1365.15, 1365.15, 1365.1, 1365.2, 1365.3, 1365.4,
             1365.1, 1364.6, 1365.3, 1365.5, 1365.6, 1365.7,
             1364.9, 1365.1, 1365.3, 1365.4, 1365.2, 1365.0, 1364.9, 1365.2, 1365.3, 1365.3,
             1365.4, 1365.6, 1365.9, 1365.8, 1365.7, 1365.6, 1365.6, 1365.4, 1365.6, 1365.55,
             1365.5, 1365.55, 1365.5, 1365.4, 1365.4, 1365.5, 1365.6, 1365.7, 1365.8, 1365.9,
             1365.9, 1366.0, 1365.8, 1365.7, 1365.6,
             1365.7, 1366.0, 1366.3, 1366.0, 1365.7, 1365.6, 1366.1, 1366.6, 1366.3, 1365.7,
             1366.0, 1366.3, 1365.7, 1365.6, 1365.7, 1365.8]
acrim_lhi = [1367.6, 1368.1, 1368.6, 1368.1, 1367.6, 1367.6, 1367.4,
             1367.5, 1367.4, 1367.3, 1367.5, 1367.5, 1367.3, 1367.2, 1367.3, 1367.0, 1367.0,
             1367.3, 1367.4, 1367.2, 1366.9, 1366.9, 1366.5,
             1366.1, 1365.8, 1365.9,
             1366.2, 1366.0, 1365.85, 1365.75, 1365.7, 1365.75, 1365.7, 1365.85, 1366.1, 1366.3,
             1366.5, 1366.7, 1367.0, 1367.2, 1367.6, 1367.3,
             1367.3, 1367.3, 1367.5, 1367.6, 1367.6, 1367.7, 1367.6, 1368.0, 1367.8, 1367.5,
             1367.3, 1367.5, 1367.6, 1367.3, 1366.9, 1366.8, 1366.8, 1366.5, 1366.6, 1366.45,
             1366.4, 1366.4, 1366.45, 1366.3, 1366.3, 1366.4, 1366.6, 1366.8, 1366.9, 1367.1,
             1367.3, 1367.6, 1367.5, 1367.4, 1367.2,
             1367.4, 1367.8, 1367.9, 1367.6, 1367.1, 1367.0, 1367.5, 1368.2, 1367.4, 1366.9,
             1367.2, 1367.5, 1366.9, 1366.8, 1367.0, 1366.9]
acrim_dlo = [1366.6, 1367.1, 1367.5, 1367.0, 1366.7, 1366.5, 1366.4,
             1366.3, 1366.2, 1366.0, 1365.9, 1365.9, 1365.6, 1365.4, 1365.7, 1365.3, 1365.4,
             1365.5, 1365.8, 1365.5, 1365.4, 1365.6, 1365.4,
             1365.2, 1364.9, 1365.2,
             1365.55, 1365.55, 1365.4, 1365.3, 1365.3, 1365.32, 1365.27, 1365.42, 1365.55, 1365.65,
             1365.45, 1365.3, 1365.7, 1365.9, 1366.1, 1366.0,
             1365.6, 1365.6, 1366.1, 1366.2, 1366.1, 1366.0, 1365.9, 1366.3, 1366.2, 1366.1,
             1366.3, 1366.4, 1366.7, 1366.5, 1366.2, 1366.05, 1366.1, 1365.85, 1366.0, 1365.9,
             1365.8, 1365.85, 1365.85, 1365.7, 1365.7, 1365.8, 1365.9, 1366.0, 1366.1, 1366.3,
             1366.35, 1366.5, 1366.3, 1366.2, 1366.1,
             1366.2, 1366.6, 1366.8, 1366.5, 1366.1, 1366.0, 1366.5, 1367.1, 1366.6, 1366.0,
             1366.3, 1366.7, 1366.0, 1365.9, 1366.0, 1366.1]
acrim_dhi = [1367.5, 1367.9, 1368.35, 1367.8, 1367.4, 1367.3, 1367.1,
             1367.2, 1367.1, 1367.0, 1366.9, 1366.9, 1366.7, 1366.5, 1366.8, 1366.4, 1366.4,
             1366.7, 1366.8, 1366.6, 1366.5, 1366.5, 1366.1,
             1365.8, 1365.5, 1365.8,
             1365.95, 1365.85, 1365.7, 1365.55, 1365.55, 1365.55, 1365.5, 1365.68, 1365.85, 1366.05,
             1366.1, 1366.2, 1366.5, 1366.6, 1366.9, 1366.7,
             1366.8, 1366.6, 1367.1, 1367.2, 1367.2, 1367.3, 1367.1, 1367.6, 1367.4, 1367.1,
             1367.0, 1367.2, 1367.4, 1367.0, 1366.7, 1366.5, 1366.5, 1366.2, 1366.35, 1366.2,
             1366.1, 1366.1, 1366.15, 1366.0, 1366.0, 1366.1, 1366.3, 1366.45, 1366.6, 1366.8,
             1366.9, 1367.1, 1367.1, 1367.0, 1366.9,
             1367.0, 1367.5, 1367.6, 1367.3, 1366.8, 1366.7, 1367.2, 1367.9, 1367.2, 1366.6,
             1366.9, 1367.3, 1366.6, 1366.5, 1366.6, 1366.6]

acrim_spk_x = [1978.9, 1979.3, 1979.87, 1980.2, 1980.85, 1980.8, 1981.47, 1981.65, 1982.0, 1982.1,
               1982.3, 1982.65, 1983.0, 1983.3, 1984.05, 1984.4, 1985.37, 1985.8, 1987.16, 1988.5,
               1989.1, 1989.3, 1989.5, 1990.5, 1991.0, 1991.3, 1991.65, 1991.8, 1993.1, 1993.6,
               1994.7, 1995.5, 1996.96, 1997.7, 1999.1, 2000.0, 2000.3, 2000.8, 2001.3, 2002.15,
               2002.6, 2003.45, 2003.85, 1992.2, 1993.6, 1994.6, 1995.2, 1998.9, 1999.6, 1999.9]
acrim_spk_lo = [1365.35, 1367.2, 1365.4, 1364.7, 1363.7, 1366.5, 1363.4, 1364.2, 1364.2, 1362.9,
                1364.6, 1366.4, 1364.5, 1364.9, 1362.7, 1364.3, 1364.75, 1364.9, 1364.9, 1363.6,
                1366.2, 1366.4, 1364.0, 1364.4, 1364.5, 1366.8, 1364.9, 1364.5, 1365.1, 1364.95,
                1365.37, 1365.4, 1364.9, 1365.3, 1365.5, 1364.7, 1365.0, 1364.5, 1364.6, 1367.3,
                1364.6, 1365.0, 1363.8, 1366.4, 1365.9, 1365.8, 1365.7, 1366.3, 1366.4, 1366.0]
acrim_spk_hi = [1367.2, 1368.8, 1367.3, 1367.0, 1366.5, 1367.7, 1366.2, 1366.2, 1366.4, 1365.8,
                1366.2, 1367.6, 1366.2, 1366.2, 1365.2, 1365.8, 1365.5, 1365.5, 1365.5, 1366.0,
                1367.3, 1368.1, 1366.3, 1366.6, 1366.6, 1368.1, 1366.8, 1366.6, 1366.3, 1366.2,
                1366.0, 1366.0, 1365.9, 1366.1, 1366.6, 1366.6, 1366.8, 1367.0, 1367.0, 1368.2,
                1366.3, 1366.2, 1366.2, 1367.6, 1366.5, 1366.3, 1366.2, 1366.9, 1367.3, 1367.0]
acrim_spk_src = ["HF", "HF", "HF", "A1", "A1", "A1", "A1", "A1", "A1", "A1",
                 "A1", "A1", "A1", "A1", "HF", "A1", "A1", "A1", "A1", "A1",
                 "A1", "A1", "HF", "HF", "HF", "HF", "HF", "A2", "A2", "A2",
                 "A2", "A2", "A2", "A2", "A2", "A2", "A2", "A3", "A3", "A3",
                 "A3", "A3", "A3", "P", "P", "P", "P", "P", "P", "P"]

# ============================================================
# STYLE
# ============================================================
HF_DARK = "#33ee33"
HF_LIGHT = "#98f7ca"
RED = "#ff3030"
PINK = "#ff90c0"
PINK_DEEP = "#ff7ab5"
PURPLE = "#9933ff"
SLATE = "#9090cc"
ERBS_C = "#8cf0c0"
BLACK = "#222222"
AXIS_C = "#9a9ad0"
TEXT_C = "#2a2a2a"
FONT = "DejaVu Sans"

for grp in [(hf1_x, hf1_dlo, hf1_dhi, hf1_llo, hf1_lhi), (hf2_x, hf2_dlo, hf2_dhi, hf2_llo, hf2_lhi),
            (a1a_x, a1a_dlo, a1a_dhi, a1a_llo, a1a_lhi), (a1b_x, a1b_dlo, a1b_dhi, a1b_llo, a1b_lhi),
            (a2_x, a2_dlo, a2_dhi, a2_llo, a2_lhi), (vg_x, vg_dlo, vg_dhi, vg_llo, vg_lhi),
            (a3_x, a3_dlo, a3_dhi, a3_llo, a3_lhi), (erbs_x, erbs_a, erbs_b),
            (pmod_x, pmod_y), (acrim_x, acrim_y),
            (pmod_bx, pmod_src, pmod_llo, pmod_lhi, pmod_dlo, pmod_dhi),
            (acrim_bx, acrim_src, acrim_llo, acrim_lhi, acrim_dlo, acrim_dhi),
            (pmod_spk_x, pmod_spk_lo, pmod_spk_hi, pmod_spk_src),
            (acrim_spk_x, acrim_spk_lo, acrim_spk_hi, acrim_spk_src),
            (hf_spk_x, hf_spk_lo, hf_spk_hi), (a1_spk_x, a1_spk_lo, a1_spk_hi),
            (a2_spk_x, a2_spk_lo, a2_spk_hi), (vg_spk_x, vg_spk_lo, vg_spk_hi)]:
    assert len(set(len(g) for g in grp)) == 1, [len(g) for g in grp]


def band(x, lo, hi, color, xa, ya):
    xs = list(x) + list(x)[::-1]
    ys = list(hi) + list(lo)[::-1]
    return go.Scatter(x=xs, y=ys, mode="lines", fill="toself", fillcolor=color,
                      line=dict(width=0.6, color=color), xaxis=xa, yaxis=ya,
                      hoverinfo="skip", showlegend=False)


def spikes(x, lo, hi, color, xa, ya, width=1.8):
    xs, ys = [], []
    for a, b, c in zip(x, lo, hi):
        xs += [a, a, None]
        ys += [b, c, None]
    return go.Scatter(x=xs, y=ys, mode="lines", line=dict(color=color, width=width),
                      xaxis=xa, yaxis=ya, hoverinfo="skip", showlegend=False)


def runs(src):
    out, s = [], 0
    for i in range(1, len(src) + 1):
        if i == len(src) or src[i] != src[s]:
            out.append((src[s], s, i))
            s = i
    return out


fig = go.Figure()

# ---------------- top panel ----------------
XT, YT = "x3", "y3"
fig.add_trace(go.Scatter(x=erbs_x + erbs_x, y=erbs_a + erbs_b, mode="markers",
                         marker=dict(symbol="cross-thin", size=11, color=ERBS_C,
                                     line=dict(width=1.6, color=ERBS_C)),
                         xaxis=XT, yaxis=YT, hoverinfo="skip", showlegend=False))
# HF
for x, lo, hi in [(hf1_x, hf1_llo, hf1_lhi), (hf2_x, hf2_llo, hf2_lhi)]:
    fig.add_trace(band(x, lo, hi, HF_LIGHT, XT, YT))
fig.add_trace(spikes(hf_spk_x, hf_spk_lo, hf_spk_hi, HF_LIGHT, XT, YT))
for x, lo, hi in [(hf1_x, hf1_dlo, hf1_dhi), (hf2_x, hf2_dlo, hf2_dhi)]:
    fig.add_trace(band(x, lo, hi, HF_DARK, XT, YT))
# ACRIM I
for x, lo, hi in [(a1a_x, a1a_llo, a1a_lhi), (a1b_x, a1b_llo, a1b_lhi)]:
    fig.add_trace(band(x, lo, hi, PINK, XT, YT))
fig.add_trace(spikes(a1_spk_x, a1_spk_lo, a1_spk_hi, PINK, XT, YT))
for x, lo, hi in [(a1a_x, a1a_dlo, a1a_dhi), (a1b_x, a1b_dlo, a1b_dhi)]:
    fig.add_trace(band(x, lo, hi, RED, XT, YT))
fig.add_trace(spikes(a1_rspk_x, a1_rspk_lo, a1_rspk_hi, RED, XT, YT))
# ACRIM II
fig.add_trace(band(a2_x, a2_llo, a2_lhi, PINK, XT, YT))
fig.add_trace(spikes(a2_spk_x, a2_spk_lo, a2_spk_hi, PINK, XT, YT))
fig.add_trace(band(a2_x, a2_dlo, a2_dhi, PURPLE, XT, YT))
fig.add_trace(spikes(a2_pspk_x, a2_pspk_lo, a2_pspk_hi, PURPLE, XT, YT))
# VIRGO + ACRIM III
fig.add_trace(band(vg_x, vg_llo, vg_lhi, SLATE, XT, YT))
fig.add_trace(spikes(vg_spk_x, vg_spk_lo, vg_spk_hi, SLATE, XT, YT))
fig.add_trace(band(a3_x, a3_llo, a3_lhi, PINK, XT, YT))
fig.add_trace(band(a3_x, a3_dlo, a3_dhi, RED, XT, YT))
fig.add_trace(band(vg_x, vg_dlo, vg_dhi, PURPLE, XT, YT))
# scale bar
fig.add_trace(go.Scatter(x=[scale_x, scale_x], y=[scale_lo, scale_hi], mode="lines+markers",
                         line=dict(color=ERBS_C, width=1.6),
                         marker=dict(symbol="line-ew", size=7, line=dict(width=1.6, color=ERBS_C)),
                         xaxis=XT, yaxis=YT, hoverinfo="skip", showlegend=False))
# invisible anchor trace so that the day axis on top is drawn
fig.add_trace(go.Scatter(x=days_ticks, y=[top_yrange[1]] * len(days_ticks), mode="markers",
                         marker=dict(size=1, opacity=0), xaxis="x4", yaxis=YT,
                         hoverinfo="skip", showlegend=False))


# ---------------- composites ----------------
def composite(bx, src, llo, lhi, dlo, dhi, sx, slo, shi, ssrc, lx, ly, ref, xa, ya, light, dark):
    for name, a, b in runs(src):
        fig.add_trace(band(bx[a:b], llo[a:b], lhi[a:b], light[name], xa, ya))
    for name in ["HF", "A1", "A2", "A3", "VG"]:
        idx = [i for i, s in enumerate(ssrc) if s == name]
        if idx:
            fig.add_trace(spikes([sx[i] for i in idx], [slo[i] for i in idx],
                                 [shi[i] for i in idx], light[name], xa, ya))
    for name, a, b in runs(src):
        fig.add_trace(band(bx[a:b], dlo[a:b], dhi[a:b], dark[name], xa, ya))
    idx = [i for i, s in enumerate(ssrc) if s == "P"]
    fig.add_trace(spikes([sx[i] for i in idx], [slo[i] for i in idx],
                         [shi[i] for i in idx], PURPLE, xa, ya, width=2.2))
    fig.add_trace(go.Scatter(x=[1978.6, 2004.33], y=[ref, ref], mode="lines",
                             line=dict(color=AXIS_C, width=1.5), xaxis=xa, yaxis=ya,
                             hoverinfo="skip", showlegend=False))
    fig.add_trace(go.Scatter(x=lx, y=ly, mode="lines", line=dict(color=BLACK, width=3.6),
                             xaxis=xa, yaxis=ya, hoverinfo="skip", showlegend=False))


light_map = {"HF": HF_LIGHT, "A1": PINK, "A2": PINK, "A3": PINK, "VG": SLATE}
dark_map = {"HF": HF_DARK, "A1": RED, "A2": PINK_DEEP, "A3": RED, "VG": PURPLE}

composite(pmod_bx, pmod_src, pmod_llo, pmod_lhi, pmod_dlo, pmod_dhi,
          pmod_spk_x, pmod_spk_lo, pmod_spk_hi, pmod_spk_src,
          pmod_x, pmod_y, pmod_ref, "x2", "y2", light_map, dark_map)
composite(acrim_bx, acrim_src, acrim_llo, acrim_lhi, acrim_dlo, acrim_dhi,
          acrim_spk_x, acrim_spk_lo, acrim_spk_hi, acrim_spk_src,
          acrim_x, acrim_y, acrim_ref, "x", "y", light_map, dark_map)

# ============================================================
# LAYOUT
# ============================================================
tickfont = dict(family=FONT, size=21, color=TEXT_C, weight="bold")
xcommon = dict(range=year_range, tickmode="array", tickvals=year_ticks, ticktext=year_labels,
               ticks="inside", ticklen=7, tickwidth=1.5, tickcolor=AXIS_C,
               showline=True, linecolor=AXIS_C, linewidth=2, showgrid=False, zeroline=False)
ycommon = dict(tickmode="array", ticks="inside", ticklen=18, tickwidth=1.5, tickcolor=AXIS_C,
               showline=True, linecolor=AXIS_C, linewidth=2, showgrid=False, zeroline=False,
               mirror="ticks", tickfont=tickfont, ticklabelstandoff=6)

days_range = [(year_range[0] - 1980) * days_per_year, (year_range[1] - 1980) * days_per_year]

fig.update_layout(
    width=1150, height=890,
    margin=dict(l=137, r=0, t=72, b=53),
    paper_bgcolor="white", plot_bgcolor="white", showlegend=False,
    font=dict(family=FONT, color=TEXT_C),
    xaxis=dict(xcommon, domain=[0, 1], anchor="y", mirror="ticks", tickfont=tickfont,
               ticklabelshift=13),
    yaxis=dict(ycommon, domain=[0, 0.2458], anchor="x", range=bot_yrange, tickvals=comp_yticks),
    xaxis2=dict(xcommon, domain=[0, 1], anchor="y2", mirror="ticks", showticklabels=False),
    yaxis2=dict(ycommon, domain=[0.2458, 0.4902], anchor="x2", range=mid_yrange,
                tickvals=comp_yticks),
    xaxis3=dict(xcommon, domain=[0, 1], anchor="y3", mirror=False, showticklabels=False),
    yaxis3=dict(ycommon, domain=[0.4902, 1], anchor="x3", range=top_yrange, tickvals=top_yticks,
                minor=dict(tickmode="linear", tick0=1362, dtick=0.5, ticklen=9, ticks="inside",
                           tickcolor=AXIS_C, tickwidth=1.5)),
    xaxis4=dict(overlaying="x3", side="top", anchor="y3", range=days_range,
                tickmode="array", tickvals=days_ticks, ticktext=days_labels,
                ticks="inside", ticklen=8, tickwidth=1.5, tickcolor=AXIS_C,
                showline=True, linecolor=ERBS_C, linewidth=2, showgrid=False, zeroline=False,
                tickfont=tickfont,
                minor=dict(tickmode="linear", tick0=0, dtick=500, ticklen=5, ticks="inside",
                           tickcolor=AXIS_C, tickwidth=1.5)),
)

lab = dict(showarrow=False, xref="x3", yref="y3", xanchor="center", yanchor="middle")
fig.add_annotation(lab, x=1985.42, y=1373.14, text="HF", font=dict(family=FONT, size=19, color="#44ee44"))
fig.add_annotation(lab, x=1986.33, y=1368.31, text="ACRIM I", font=dict(family=FONT, size=19, color=RED))
fig.add_annotation(lab, x=1987.67, y=1363.72, text="ERBS", font=dict(family=FONT, size=19, color=ERBS_C))
fig.add_annotation(lab, x=1998.40, y=1368.31, text="ACRIM III vers: 0311",
                   font=dict(family=FONT, size=19, color=RED))
fig.add_annotation(lab, x=1996.96, y=1367.21, text="VIRGO 6_000_0402",
                   font=dict(family=FONT, size=19, color=PURPLE))
fig.add_annotation(lab, x=1998.72, y=1362.24, text="ACRIM II vers: 101001",
                   font=dict(family=FONT, size=19, color=PURPLE))
fig.add_annotation(dict(lab, xanchor="left"), x=1996.64, y=1372.03, text="0.2%",
                   font=dict(family=FONT, size=18, color=TEXT_C))
fig.add_annotation(showarrow=False, xref="x2", yref="y2", x=1996.64, y=1363.52,
                   text="PMOD Composite", font=dict(family=FONT, size=19, color=TEXT_C))
fig.add_annotation(showarrow=False, xref="x", yref="y", x=1996.40, y=1363.52,
                   text="ACRIM Composite", font=dict(family=FONT, size=19, color=TEXT_C))

fig.add_annotation(showarrow=False, xref="paper", yref="paper", x=0.4995, y=1.0588,
                   xanchor="center", yanchor="middle", text="Days (Epoch Jan 0, 1980)",
                   font=dict(family=FONT, size=22, color=TEXT_C, weight="bold"))
fig.add_annotation(showarrow=False, xref="paper", yref="paper", x=0.4995, y=-0.0536,
                   xanchor="center", yanchor="middle", text="Year",
                   font=dict(family=FONT, size=22, color=TEXT_C, weight="bold"))
fig.add_annotation(showarrow=False, xref="paper", yref="paper", x=-0.1056, y=0.506,
                   xanchor="center", yanchor="middle", textangle=-90,
                   text="Total Solar Irradiance (Wm<sup>−2</sup>)",
                   font=dict(family="Liberation Sans", size=21, color=TEXT_C))

fig.write_html("out.html", include_plotlyjs=True, config={"displayModeBar": False},
               post_script="document.body.style.margin='0';document.body.style.overflow='hidden';")
